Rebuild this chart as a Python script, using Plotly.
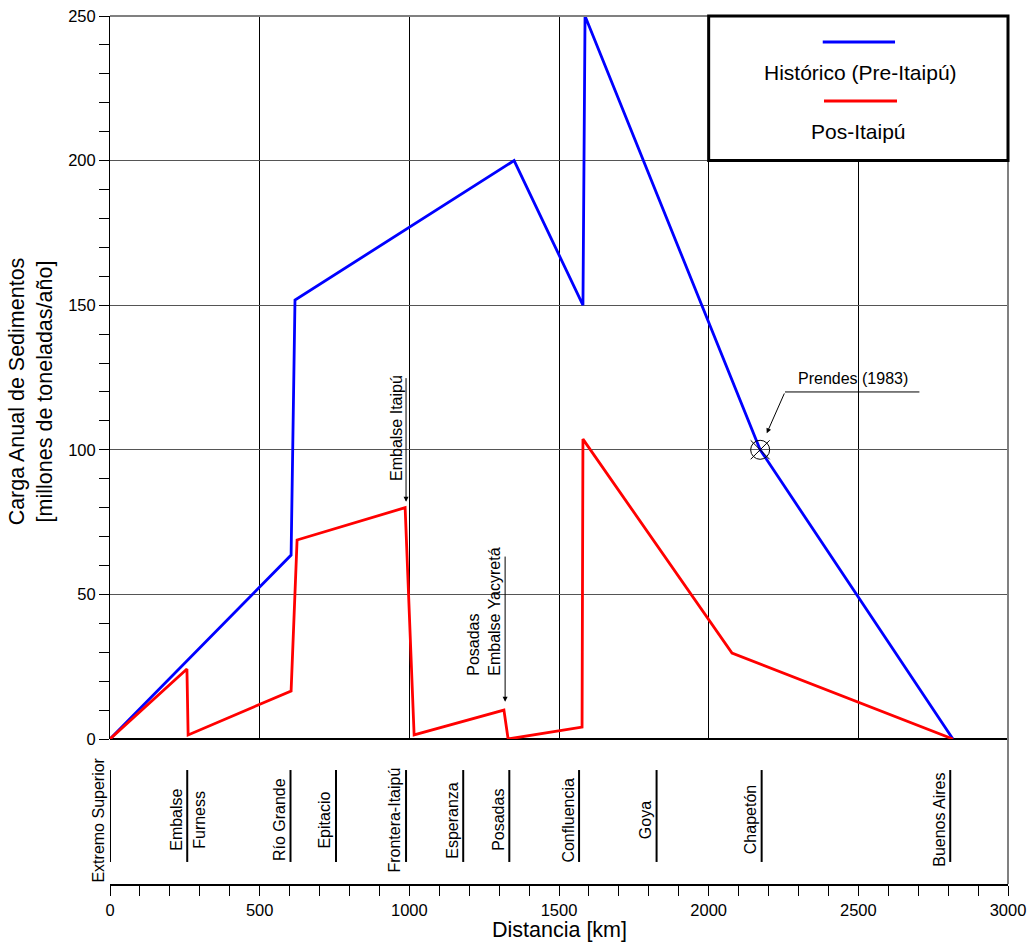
import plotly.graph_objects as go

# ---------------- data ----------------
blue_km = [0, 605, 618, 1350, 1580, 1587, 2172, 2816]
blue_load = [0, 63.6, 151.8, 200, 150, 250, 100, 0]

red_km = [0, 257, 261, 605, 625, 986, 1016, 1316, 1330, 1577, 1580, 2078, 2816]
red_load = [0, 24.2, 1.4, 16.6, 68.8, 80, 1.4, 10, 0, 4.1, 103.7, 29.7, 0]

station_km = [0, 258, 603, 755, 989, 1180, 1334, 1567, 1826, 2177, 2807]
station_left = ["Extremo Superior", "Embalse", "Río Grande", "Epitacio", "Frontera-Itaipú",
                "Esperanza", "Posadas", "Confluencia", "Goya", "Chapetón", "Buenos Aires"]
station_right = ["", "Furness", "", "", "", "", "", "", "", "", ""]

prendes_km = [2172]
prendes_load = [100]

x_ticks = [0, 500, 1000, 1500, 2000, 2500, 3000]
y_ticks = [0, 50, 100, 150, 200, 250]

legend_names = ["Histórico (Pre-Itaipú)", "Pos-Itaipú"]

FONT = "Liberation Sans, Arial, sans-serif"
H_LOW = 145 / 868  # fraction of plot height used by the station strip

fig = go.Figure()

fig.add_trace(go.Scatter(x=blue_km, y=blue_load, xaxis="x2", yaxis="y", mode="lines",
                         line=dict(color="#0000ff", width=2.8), name=legend_names[0],
                         showlegend=False))
fig.add_trace(go.Scatter(x=red_km, y=red_load, xaxis="x2", yaxis="y", mode="lines",
                         line=dict(color="#ff0000", width=2.8), name=legend_names[1],
                         showlegend=False))

# Prendes (1983) measurement marker
fig.add_trace(go.Scatter(x=prendes_km, y=prendes_load, xaxis="x2", yaxis="y", mode="markers",
                         marker=dict(symbol="circle-open", size=19, color="black",
                                     line=dict(color="black", width=1)), showlegend=False))
fig.add_trace(go.Scatter(x=prendes_km, y=prendes_load, xaxis="x2", yaxis="y", mode="markers",
                         marker=dict(symbol="x-thin-open", size=19, color="black",
                                     line=dict(color="black", width=1)), showlegend=False))

# station tick lines in lower strip
sx, sy = [], []
for km in station_km:
    sx += [km, km, None]
    sy += [0.152, 0.786, None]
fig.add_trace(go.Scatter(x=sx, y=sy, xaxis="x", yaxis="y2", mode="lines",
                         line=dict(color="black", width=2), showlegend=False, hoverinfo="skip"))

LBL = 16
annotations = []
for km, lt, rt in zip(station_km, station_left, station_right):
    annotations.append(dict(x=km, y=0.441, xref="x", yref="y2", text=lt, textangle=-90,
                            xanchor="right", yanchor="middle", showarrow=False, xshift=-1,
                            font=dict(family=FONT, size=LBL, color="black")))
    if rt:
        annotations.append(dict(x=km, y=0.441, xref="x", yref="y2", text=rt, textangle=-90,
                                xanchor="left", yanchor="middle", showarrow=False, xshift=1,
                                font=dict(family=FONT, size=LBL, color="black")))

# arrows
arrow_common = dict(xref="x2", yref="y", axref="x2", ayref="y", showarrow=True, text="",
                    arrowhead=2, arrowsize=1, arrowwidth=1, arrowcolor="black")
annotations.append(dict(x=989, y=82, ax=989, ay=125.3, **arrow_common))
annotations.append(dict(x=1320, y=12.9, ax=1320, ay=63.6, **arrow_common))
annotations.append(dict(x=2194, y=105.7, ax=2255, ay=120, **arrow_common))

annotations.append(dict(x=957, y=107.7, xref="x2", yref="y", text="Embalse Itaipú",
                        textangle=-90, showarrow=False, xanchor="center", yanchor="middle",
                        font=dict(family=FONT, size=LBL, color="black")))
annotations.append(dict(x=1249.5, y=44.0, xref="x2", yref="y",
                        text="Posadas<br>Embalse Yacyretá", align="left",
                        textangle=-90, showarrow=False, xanchor="center", yanchor="middle",
                        font=dict(family=FONT, size=LBL, color="black")))
annotations.append(dict(x=2482, y=124.5, xref="x2", yref="y", text="Prendes (1983)",
                        showarrow=False, xanchor="center", yanchor="middle",
                        font=dict(family=FONT, size=LBL, color="black")))

# axis titles
annotations.append(dict(x=-0.0885, y=0.567, xref="paper", yref="paper",
                        text="Carga Anual de Sedimentos<br>[millones de toneladas/año]",
                        textangle=-90, showarrow=False, xanchor="center", yanchor="middle",
                        font=dict(family=FONT, size=21.5, color="black")))
annotations.append(dict(x=0.5, y=-0.053, xref="paper", yref="paper", text="Distancia [km]",
                        showarrow=False, xanchor="center", yanchor="middle",
                        font=dict(family=FONT, size=21.5, color="black")))

# legend texts
annotations.append(dict(x=0.8352, y=0.9347, xref="paper", yref="paper", text=legend_names[0],
                        showarrow=False, xanchor="center", yanchor="middle",
                        font=dict(family=FONT, size=21, color="black")))
annotations.append(dict(x=0.833, y=0.8667, xref="paper", yref="paper", text=legend_names[1],
                        showarrow=False, xanchor="center", yanchor="middle",
                        font=dict(family=FONT, size=21, color="black")))

shapes = [
    # Prendes leader horizontal
    dict(type="line", xref="x2", yref="y", x0=2255, x1=2704, y0=120, y1=120,
         line=dict(color="black", width=1)),
    # top / right border
    dict(type="line", xref="paper", yref="paper", x0=0, x1=1, y0=1, y1=1,
         line=dict(color="#808080", width=2), layer="above"),
    dict(type="line", xref="paper", yref="paper", x0=1, x1=1, y0=0, y1=1,
         line=dict(color="#808080", width=2), layer="above"),
    # legend box
    dict(type="rect", xref="paper", yref="paper", x0=2 / 3, x1=1.0,
         y0=H_LOW + (1 - H_LOW) * 0.8, y1=1.0,
         line=dict(color="black", width=3), fillcolor="white", layer="above"),
    dict(type="line", xref="paper", yref="paper", x0=0.7937, x1=0.8742, y0=0.970, y1=0.970,
         line=dict(color="#0000ff", width=3), layer="above"),
    dict(type="line", xref="paper", yref="paper", x0=0.7951, x1=0.8764, y0=0.902, y1=0.902,
         line=dict(color="#ff0000", width=3), layer="above"),
]

tickfont = dict(family=FONT, size=16.5, color="black")

fig.update_layout(
    width=1029, height=942,
    margin=dict(l=110, r=21, t=16, b=58, autoexpand=False),
    plot_bgcolor="white", paper_bgcolor="white",
    showlegend=False,
    font=dict(family=FONT, color="black"),
    xaxis=dict(domain=[0, 1], anchor="y2", range=[0, 3000], tickmode="array",
               tickvals=x_ticks, ticktext=[str(v) for v in x_ticks],
               ticks="outside", ticklen=10, tickwidth=1, tickcolor="black",
               minor=dict(dtick=100, tick0=0, ticks="outside", ticklen=10, tickwidth=1,
                          tickcolor="black", showgrid=False),
               showgrid=False, showline=True, linecolor="black", linewidth=1.5,
               zeroline=False, tickfont=tickfont, automargin=False),
    xaxis2=dict(domain=[0, 1], anchor="y", matches="x", range=[0, 3000], tickmode="array",
                tickvals=x_ticks, showticklabels=False, ticks="",
                showgrid=True, gridcolor="black", gridwidth=1, showline=False, zeroline=False,
                automargin=False),
    yaxis=dict(domain=[H_LOW, 1], anchor="x2", range=[0, 250], tickmode="array",
               tickvals=y_ticks, ticktext=[str(v) for v in y_ticks],
               ticks="outside", ticklen=10, tickwidth=1, tickcolor="black",
               minor=dict(dtick=10, tick0=0, ticks="outside", ticklen=10, tickwidth=1,
                          tickcolor="black", showgrid=False),
               showgrid=True, gridcolor="#555555", gridwidth=1,
               showline=True, linecolor="black", linewidth=1,
               zeroline=True, zerolinecolor="black", zerolinewidth=1.5, tickfont=tickfont,
               automargin=False),
    yaxis2=dict(domain=[0, H_LOW], anchor="x", range=[0, 1], visible=False, fixedrange=True,
                automargin=False),
    annotations=annotations,
    shapes=shapes,
)

fig.write_html("out.html")
